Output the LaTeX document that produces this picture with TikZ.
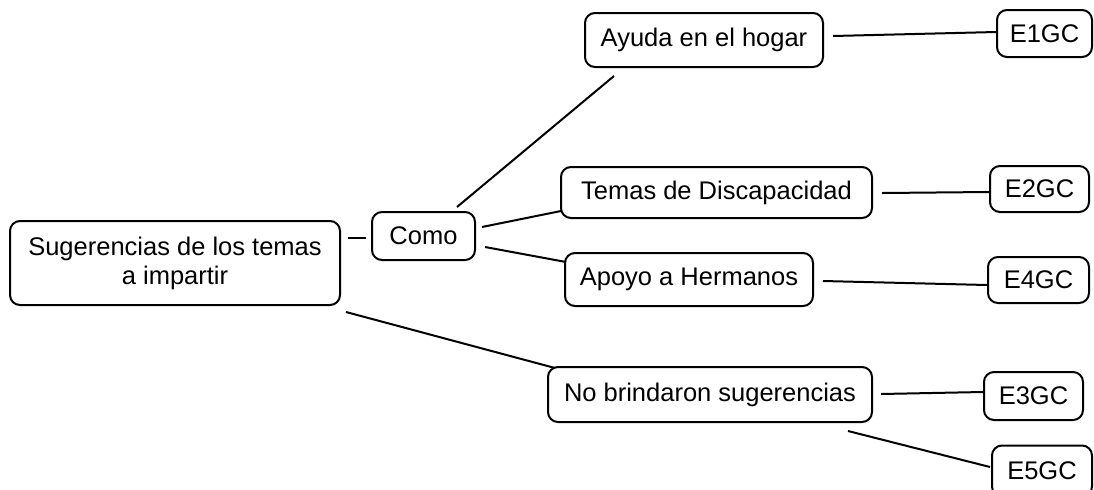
\documentclass[tikz,border=0pt]{standalone}
\usepackage{fontspec}
\setmainfont{Liberation Sans}
\begin{document}
\begin{tikzpicture}[
    x=0.5pt, y=-0.5pt,
    every node/.style={draw,rounded corners=5pt,line width=1pt,align=center,inner sep=0pt,
      font=\fontsize{12.75}{14.6}\selectfont},
    link/.style={line width=1pt}
  ]
  \path[use as bounding box,clip] (0,0) rectangle (1094,489);
  % themes
  \node[minimum width=165pt,minimum height=42pt] (sug) at (175,263) {Sugerencias de los temas\\a impartir};
  \node[minimum width=51.5pt,minimum height=24pt] (como) at (423.5,236) {Como};
  \node[minimum width=119pt,minimum height=27pt] (ayuda) at (704,40) {Ayuda en el hogar};
  \node[minimum width=155.5pt,minimum height=25.5pt] (temas) at (716.5,192.5) {Temas de Discapacidad};
  \node[minimum width=124pt,minimum height=26.5pt] (apoyo) at (689,279.5) {Apoyo a Hermanos};
  \node[minimum width=162pt,minimum height=27.5pt] (nobri) at (710,394.5) {No brindaron sugerencias};
  % interviews
  \node[minimum width=47.5pt,minimum height=23.5pt] (e1) at (1044.5,33.5) {E1GC};
  \node[minimum width=49.5pt,minimum height=23pt] (e2) at (1039.5,189) {E2GC};
  \node[minimum width=50.5pt,minimum height=23pt] (e4) at (1038.5,280) {E4GC};
  \node[minimum width=49.5pt,minimum height=24pt] (e3) at (1033.5,396) {E3GC};
  \node[minimum width=50pt,minimum height=25.5pt] (e5) at (1042,471) {E5GC};
  % links
  \draw[link] ([shift={(7,-25)}]sug.east) -- ([shift={(-5,2)}]como.west);
  \draw[link] ([shift={(33.5,-4)}]como.north) -- ([shift={(-90,8)}]ayuda.south);
  \draw[link] ([shift={(6,-9)}]como.east) -- ([shift={(1,18.5)}]temas.west);
  \draw[link] ([shift={(9,11)}]como.east) -- ([shift={(2,-17.5)}]apoyo.west);
  \draw[link] ([shift={(5,6)}]sug.south east) -- ([shift={(8,2)}]nobri.north west);
  \draw[link] ([shift={(9,-4)}]ayuda.east) -- ([shift={(0,-1.5)}]e1.west);
  \draw[link] ([shift={(9,0.5)}]temas.east) -- ([shift={(0,3)}]e2.west);
  \draw[link] ([shift={(9,1.5)}]apoyo.east) -- ([shift={(0,5)}]e4.west);
  \draw[link] ([shift={(8,-0.5)}]nobri.east) -- ([shift={(0,-4)}]e3.west);
  \draw[link] ([shift={(-25,8)}]nobri.south east) -- ([shift={(-1,-4)}]e5.west);
\end{tikzpicture}
\end{document}
